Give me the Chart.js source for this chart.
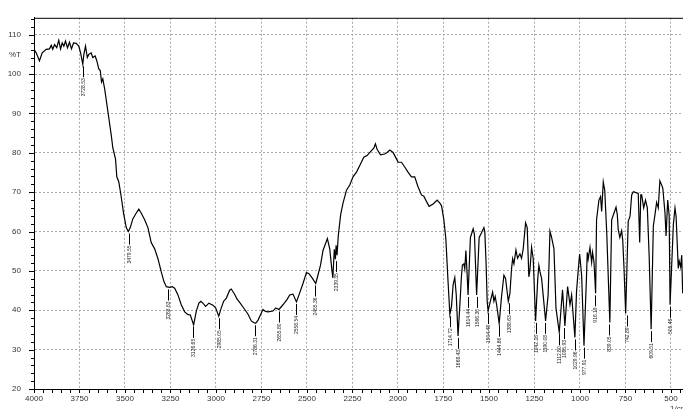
<!DOCTYPE html>
<html>
<head>
<meta charset="utf-8">
<script src="https://cdn.jsdelivr.net/npm/chart.js@4.4.1/dist/chart.umd.min.js"></script>
<style>
html,body{margin:0;padding:0;background:#fff;}
#wrap{width:683px;height:409px;position:relative;}
</style>
</head>
<body>
<div id="wrap"><canvas id="c"></canvas></div>
<script>
// ---- data ----
const wavenumbers = [
4000,3988,3970,3955,3933,3915,3905,3897,3887,3875,3864,3854,3845,3836,3827,3816,3805,3794,3783,3768,
3754,3744,3732,3726,3717,3707,3699,3686,3677,3664,3655,3644,3636,3629,3622,3612,3594,3575,3567,3552,
3545,3534,3521,3508,3493,3482,3471,3457,3438,3424,3411,3392,3374,3356,3337,3319,3301,3286,3273,3255,
3240,3227,3209,3191,3172,3154,3141,3123,3108,3094,3083,3072,3057,3039,3017,3002,2985,2971,2958,2943,
2925,2916,2897,2885,2870,2842,2824,2806,2793,2782,2769,2754,2742,2728,2714,2687,2672,2654,2632,2610,
2595,2577,2558,2544,2522,2503,2489,2470,2452,2440,2426,2412,2388,2375,2364,2358,2350,2344,2340,2335,
2328,2315,2302,2283,2265,2247,2228,2210,2188,2170,2151,2133,2124,2115,2096,2073,2060,2045,2027,2008,
1999,1981,1963,1945,1926,1908,1890,1871,1858,1843,1829,1807,1785,1770,1761,1748,1737,1725,1715,1706,
1697,1688,1680,1670,1657,1651,1646,1638,1633,1627,1621,1615,1602,1595,1587,1580,1568,1554,1541,1528,
1523,1516,1510,1505,1495,1480,1473,1466,1458,1444,1431,1418,1409,1394,1385,1376,1370,1363,1352,1343,
1330,1321,1312,1299,1290,1281,1275,1266,1257,1244,1232,1226,1220,1211,1189,1175,1165,1156,1143,1132,
1114,1096,1083,1068,1055,1046,1028,1019,1010,1002,991,978,964,960,955,945,936,931,923,914,
909,896,887,881,872,864,853,836,826,813,802,795,790,781,771,765,758,749,735,725,
716,707,692,680,672,666,661,650,640,630,620,609,597,588,579,570,561,551,545,533,
527,518,510,505,487,478,472,460,455,447,441,436
];
const transmittance = [
106.3,105.4,103.4,105.4,106.3,106.4,107.3,106.3,107.5,106.7,108.6,106.4,107.9,107.1,108.4,106.7,108.1,106.4,107.9,107.8,
107.1,105.4,102.5,105.0,107.1,104.2,105.0,105.4,104.2,104.6,103.4,101.3,100.9,98.0,98.8,96.3,90.5,84.3,81.3,78.4,
73.9,72.6,68.9,64.7,61.0,60.0,61.0,63.2,64.7,65.7,64.7,63.0,61.0,57.2,55.6,53.1,49.8,47.3,46.0,45.8,
46.0,45.6,43.9,41.4,39.6,38.9,38.8,36.3,39.8,41.8,42.3,41.8,41.0,41.8,41.3,40.6,38.5,40.6,42.3,43.1,
45.1,45.4,44.0,42.9,42.0,40.2,39.0,37.3,36.9,36.7,37.5,39.0,40.2,39.7,39.6,39.8,40.6,40.2,41.4,42.7,
43.9,44.1,42.1,43.9,46.8,49.6,49.3,48.1,46.8,48.9,51.4,55.2,58.2,55.6,50.6,48.2,55.5,53.0,56.5,54.0,
59.0,64.3,67.2,70.5,71.8,73.9,75.1,76.8,78.9,79.3,80.3,81.2,82.3,80.9,79.5,79.7,80.1,80.7,80.1,78.4,
77.6,77.6,76.4,75.1,73.9,73.9,71.4,69.3,69.0,67.6,66.4,67.0,68.0,67.2,66.6,63.0,58.1,47.3,39.0,41.0,
46.5,48.3,44.0,33.5,43.9,48.9,51.5,51.8,50.5,55.2,50.0,43.9,58.5,59.5,60.7,59.3,43.9,58.5,59.7,61.0,
60.0,52.0,42.3,39.8,41.8,44.6,42.3,43.5,41.4,36.6,43.5,48.9,48.1,42.3,44.3,50.6,53.1,51.8,55.3,53.2,
54.3,53.2,55.6,62.2,61.0,48.5,50.2,56.0,53.1,37.3,48.0,51.4,49.8,48.1,37.3,43.9,60.1,58.5,55.6,40.6,
34.4,45.2,36.0,46.0,41.4,43.9,33.1,44.8,50.0,54.3,48.9,31.0,48.9,54.7,53.0,56.0,52.2,54.7,52.2,44.3,
63.0,68.0,68.9,65.1,72.6,70.5,59.7,36.9,63.0,64.7,66.2,64.3,60.5,58.5,60.2,57.7,50.6,39.2,62.6,63.9,
69.3,70.1,69.9,69.7,57.2,69.3,69.3,66.0,68.0,66.0,53.9,35.2,61.4,64.3,67.4,66.0,72.9,71.8,71.0,64.7,
58.9,68.0,64.0,41.4,61.8,66.0,63.9,50.6,52.5,51.0,54.0,44.3
];
const xTickValues = [4000,3750,3500,3250,3000,2750,2500,2250,2000,1750,1500,1250,1000,750,500];
const yTickValues = [20,30,40,50,60,70,80,90,100,110];
const yAxisTitle = '%T';
const yAxisTitleValue = 105;
const xAxisUnit = '1/cm';
const peakLabels = ['3728.53','3479.55','3263.63','3126.65','2985.05','2786.31','2655.80','2558.54','2455.36','2339.35',
'1714.72','1668.43','1614.44','1566.30','1504.48','1444.66','1388.63','1242.16','1190.08','1112.80','1085.93',
'1029.96','977.91','916.19','839.05','742.89','609.51','505.46'];

const FONT = '"Liberation Sans", Arial, sans-serif';
const points = wavenumbers.map((w, i) => ({x: w, y: transmittance[i]}));

const decorPlugin = {
  id: 'decor',
  afterDraw(chart) {
    const ctx = chart.ctx, xs = chart.scales.x, ys = chart.scales.y, a = chart.chartArea;
    ctx.save();
    // top frame line
    ctx.strokeStyle = '#000'; ctx.lineWidth = 1;
    ctx.beginPath(); ctx.moveTo(a.left, a.top + 0.5); ctx.lineTo(a.right, a.top + 0.5); ctx.stroke();
    // y ticks (major every 10, minor every 2)
    ctx.beginPath();
    for (let v = 20; v <= ys.max; v += 2) {
      const y = Math.round(ys.getPixelForValue(v)) + 0.5;
      const len = (v % 10 === 0) ? 5 : 3;
      ctx.moveTo(a.left - len, y); ctx.lineTo(a.left, y);
    }
    // x ticks every 50
    for (let w = 450; w <= 4000; w += 50) {
      if (w < xs.min) continue;
      const x = Math.round(xs.getPixelForValue(w)) + 0.5;
      ctx.moveTo(x, a.bottom); ctx.lineTo(x, a.bottom + 4);
    }
    ctx.stroke();
    // peak markers and labels
    ctx.font = '5px ' + FONT;
    ctx.fillStyle = '#222';
    peakLabels.forEach(lbl => {
      const w = parseFloat(lbl);
      let vmin = Infinity;
      wavenumbers.forEach((ww, i) => { if (Math.abs(ww - w) <= 12 && transmittance[i] < vmin) vmin = transmittance[i]; });
      const x = Math.round(xs.getPixelForValue(w)) + 0.5;
      const y0 = ys.getPixelForValue(vmin) + 2;
      ctx.beginPath(); ctx.moveTo(x, y0); ctx.lineTo(x, y0 + 11); ctx.stroke();
      ctx.save();
      ctx.translate(x + 0.5, y0 + 12);
      ctx.rotate(-Math.PI / 2);
      ctx.textAlign = 'right'; ctx.textBaseline = 'middle';
      ctx.fillText(lbl, 0, 0);
      ctx.restore();
    });
    // unit label (cut off at bottom right as in the reference)
    ctx.font = '8px ' + FONT; ctx.fillStyle = '#333';
    ctx.textAlign = 'left'; ctx.textBaseline = 'top';
    ctx.fillText(xAxisUnit, xs.getPixelForValue(505), a.bottom + 16);
    ctx.restore();
  }
};

new Chart(document.getElementById('c'), {
  type: 'line',
  data: {
    datasets: [{
      data: points,
      borderColor: '#000',
      borderWidth: 1.2,
      pointRadius: 0,
      tension: 0,
      fill: false
    }]
  },
  options: {
    responsive: true,
    maintainAspectRatio: false,
    animation: false,
    devicePixelRatio: 1,
    layout: {padding: {top: 11, right: 0, left: 0, bottom: 0}},
    plugins: {legend: {display: false}, tooltip: {enabled: false}},
    scales: {
      x: {
        type: 'linear', reverse: true, min: 434, max: 4000,
        afterBuildTicks: s => { s.ticks = xTickValues.map(v => ({value: v})); },
        afterFit: s => { s.height = 20; },
        grid: {color: '#a8a8a8', lineWidth: 1, drawTicks: false},
        border: {display: true, color: '#000', width: 1, dash: [2, 2]},
        ticks: {padding: 5, color: '#333', font: {family: FONT, size: 8}, maxRotation: 0, autoSkip: false,
          callback: v => String(v)}
      },
      y: {
        type: 'linear', min: 20, max: 114.3,
        afterBuildTicks: s => { s.ticks = yTickValues.concat([yAxisTitleValue]).map(v => ({value: v})); },
        afterFit: s => { s.width = 34; },
        grid: {color: c => (c.tick && c.tick.value === yAxisTitleValue) ? 'rgba(0,0,0,0)' : '#a8a8a8', lineWidth: 1, drawTicks: false},
        border: {display: true, color: '#000', width: 1, dash: [2, 2]},
        ticks: {padding: 13, color: '#333', font: {family: FONT, size: 8}, autoSkip: false,
          callback: v => v === yAxisTitleValue ? yAxisTitle : String(v)}
      }
    }
  },
  plugins: [decorPlugin]
});
</script>
</body>
</html>
